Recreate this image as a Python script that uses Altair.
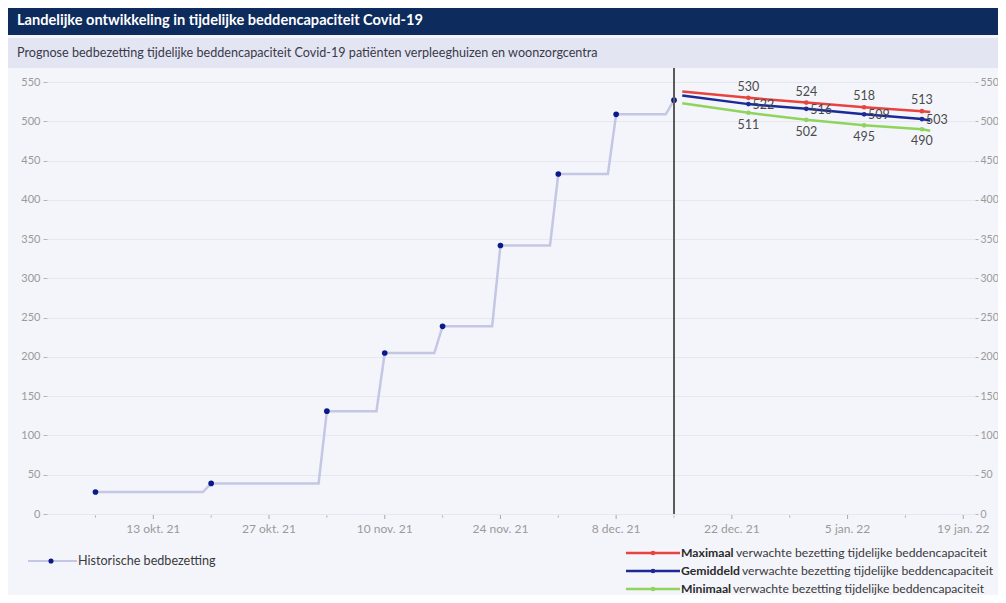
import altair as alt
import pandas as pd

FONT = "Lato"

# ---------------- data ----------------
hist_dates = ["2021-10-06", "2021-10-20", "2021-11-03", "2021-11-10", "2021-11-17",
              "2021-11-24", "2021-12-01", "2021-12-08", "2021-12-15"]
hist_values = [28, 39, 131, 205, 239, 342, 433, 509, 527]

fc_dates = ["2021-12-16", "2021-12-24", "2021-12-31", "2022-01-07", "2022-01-14", "2022-01-15"]
fc_max = [538, 530, 524, 518, 513, 512]
fc_avg = [533, 522, 516, 509, 503, 501]
fc_min = [523, 511, 502, 495, 490, 488]
labeled_idx = [1, 2, 3, 4]

series_names = ["Maximaal", "Gemiddeld", "Minimaal"]
series_colors = ["#e8433e", "#1b2a96", "#8fd45c"]

split_date = "2021-12-15"

x_ticks = ["2021-10-06", "2021-10-13", "2021-10-20", "2021-10-27", "2021-11-03", "2021-11-10",
           "2021-11-17", "2021-11-24", "2021-12-01", "2021-12-08", "2021-12-15", "2021-12-22",
           "2021-12-29", "2022-01-05", "2022-01-12", "2022-01-19"]
x_major = ["2021-10-13", "2021-10-27", "2021-11-10", "2021-11-24", "2021-12-08",
           "2021-12-22", "2022-01-05", "2022-01-19"]
y_ticks = [0, 50, 100, 150, 200, 250, 300, 350, 400, 450, 500, 550]
months_nl = ["jan.", "feb.", "mrt.", "apr.", "mei", "jun.", "jul.", "aug.",
             "sep.", "okt.", "nov.", "dec."]

title_text = "Landelijke ontwikkeling in tijdelijke beddencapaciteit Covid-19"
subtitle_text = ("Prognose bedbezetting tijdelijke beddencapaciteit Covid-19 patiënten "
                 "verpleeghuizen en woonzorgcentra")
legend_hist = "Historische bedbezetting"
legend_suffix = "verwachte bezetting tijdelijke beddencapaciteit"

# ---------------- tables ----------------
hist_pts = pd.DataFrame({"d": pd.to_datetime(hist_dates), "v": hist_values})
line_rows = []
for i, (d, v) in enumerate(zip(hist_dates, hist_values)):
    if i > 0:
        line_rows.append({"d": pd.Timestamp(d) - pd.Timedelta(days=1), "v": hist_values[i - 1]})
    line_rows.append({"d": pd.Timestamp(d), "v": v})
hist_line = pd.DataFrame(line_rows)

fc_rows = []
for name, vals in zip(series_names, [fc_max, fc_avg, fc_min]):
    for i, (d, v) in enumerate(zip(fc_dates, vals)):
        fc_rows.append({"d": pd.Timestamp(d), "v": v, "s": name, "lab": i in labeled_idx})
fc_df = pd.DataFrame(fc_rows)
fc_lab = fc_df[fc_df["lab"]]

tick_rows = []
for d in x_ticks:
    t = pd.Timestamp(d)
    major = d in x_major
    tick_rows.append({"d": t, "major": major,
                      "label": f"{t.day} {months_nl[t.month - 1]} {t.strftime('%y')}" if major else ""})
ticks_df = pd.DataFrame(tick_rows)

one = pd.DataFrame({"a": [0]})


def dt(s, hours=0, minutes=0):
    t = pd.Timestamp(s)
    return alt.DateTime(year=t.year, month=t.month, date=t.day, hours=hours, minutes=minutes)


x_scale = alt.Scale(domain=[dt("2021-09-30", 3, 20), dt("2022-01-20", 10)])
y_scale = alt.Scale(domain=[0, 568], nice=False, zero=True)
color_scale = alt.Scale(domain=series_names, range=series_colors)

y_axis_left = alt.Axis(values=y_ticks, grid=True, gridColor="#e7e8ef", domain=False,
                       tickColor="#b5b5b5", tickSize=4, labelColor="#9a9a9a",
                       labelFontSize=11, labelFont=FONT, labelPadding=3, title=None)
y_axis_right = alt.Axis(values=y_ticks, orient="right", grid=False, domain=False,
                        tickColor="#b5b5b5", tickSize=3, labelColor="#9a9a9a",
                        labelFontSize=10.5, labelFont=FONT, labelPadding=2, title=None)

X = lambda: alt.X("d:T", scale=x_scale, axis=None)
Y = lambda axis=None: alt.Y("v:Q", scale=y_scale, axis=axis)

layers = []

# header bars
layers.append(alt.Chart(one).mark_rect(color="#0d2b5c").encode(
    x=alt.value(-39), x2=alt.value(951), y=alt.value(-60), y2=alt.value(-33)))
layers.append(alt.Chart(one).mark_rect(color="#e3e5f2").encode(
    x=alt.value(-39), x2=alt.value(951), y=alt.value(-30), y2=alt.value(0)))
layers.append(alt.Chart(one).mark_text(text=title_text, align="left", baseline="middle",
                                       color="white", fontSize=14.6, fontWeight="bold",
                                       font=FONT).encode(
    x=alt.value(-30), y=alt.value(-47)))
layers.append(alt.Chart(one).mark_text(text=subtitle_text, align="left", baseline="middle",
                                       color="#3a3a4a", fontSize=12.6, font=FONT).encode(
    x=alt.value(-30), y=alt.value(-15)))

# x axis (ticks + labels drawn through the time scale)
layers.append(alt.Chart(ticks_df[ticks_df["major"]]).mark_rule(color="#a8a8a8", strokeWidth=1).encode(
    x=X(), y=alt.value(447), y2=alt.value(451)))
layers.append(alt.Chart(ticks_df[~ticks_df["major"]]).mark_rule(color="#a8a8a8", strokeWidth=1).encode(
    x=X(), y=alt.value(447.5), y2=alt.value(449.5)))
layers.append(alt.Chart(ticks_df[ticks_df["major"]]).mark_text(
    color="#9a9a9a", fontSize=12, font=FONT, baseline="middle", align="center").encode(
    x=X(), y=alt.value(461), text="label:N"))

# historic
layers.append(alt.Chart(hist_line).mark_line(color="#c3c7e4", strokeWidth=2.5).encode(
    x=X(), y=Y(y_axis_left)))
layers.append(alt.Chart(hist_pts).mark_point(filled=True, color="#0b1a8a", size=32,
                                             opacity=1).encode(x=X(), y=Y()))

# split rule
layers.append(alt.Chart(pd.DataFrame({"d": [pd.Timestamp(split_date)]})).mark_rule(
    color="#5a5a5a", strokeWidth=2).encode(x=X()))

# forecasts
layers.append(alt.Chart(fc_df).mark_line(strokeWidth=2.5).encode(
    x=X(), y=Y(y_axis_right),
    color=alt.Color("s:N", scale=color_scale, legend=None),
    order=alt.Order("d:T")))
layers.append(alt.Chart(fc_lab).mark_point(filled=True, size=22, opacity=1).encode(
    x=X(), y=Y(), color=alt.Color("s:N", scale=color_scale, legend=None)))

label_style = {
    "Maximaal": dict(align="center", baseline="middle", dx=0, dy=-11),
    "Gemiddeld": dict(align="left", baseline="middle", dx=4, dy=1),
    "Minimaal": dict(align="center", baseline="middle", dx=0, dy=12),
}
for name in series_names:
    layers.append(alt.Chart(fc_lab[fc_lab["s"] == name]).mark_text(
        fontSize=12.5, font=FONT, color="#4a4a4a", **label_style[name]).encode(
        x=X(), y=Y(), text=alt.Text("v:Q", format="d")))

# legend: historic
layers.append(alt.Chart(one).mark_rule(color="#c3c7e4", strokeWidth=2).encode(
    x=alt.value(-19), x2=alt.value(30), y=alt.value(493)))
layers.append(alt.Chart(one).mark_point(filled=True, color="#0b1a8a", size=26,
                                        opacity=1).encode(x=alt.value(4), y=alt.value(493)))
layers.append(alt.Chart(one).mark_text(text=legend_hist, align="left", baseline="middle",
                                       color="#3a3a3a", fontSize=12.6, font=FONT).encode(
    x=alt.value(31), y=alt.value(493)))

# legend: forecasts
legend_rows_y = [485, 503, 521]
suffix_x = [689, 695, 686]
for name, col, yy, sx in zip(series_names, series_colors, legend_rows_y, suffix_x):
    layers.append(alt.Chart(one).mark_rule(color=col, strokeWidth=2.5).encode(
        x=alt.value(579), x2=alt.value(633), y=alt.value(yy)))
    layers.append(alt.Chart(one).mark_point(filled=True, color=col, size=22,
                                            opacity=1).encode(x=alt.value(606), y=alt.value(yy)))
    layers.append(alt.Chart(one).mark_text(text=name, align="left", baseline="middle",
                                           color="#2a2a2a", fontSize=12.2, fontWeight="bold",
                                           font=FONT).encode(x=alt.value(634), y=alt.value(yy)))
    layers.append(alt.Chart(one).mark_text(text=legend_suffix, align="left", baseline="middle",
                                           color="#3a3a3a", fontSize=12.2, font=FONT).encode(
        x=alt.value(sx), y=alt.value(yy)))

chart = alt.layer(*layers).resolve_axis(y="independent").properties(
    width=928, height=446,
    autosize=alt.AutoSizeParams(type="none"),
    padding={"left": 39, "top": 60, "right": 23, "bottom": 81},
    background="#f4f5fa",
).configure_view(stroke=None)

chart.save("out.html", embed_options={"renderer": "svg", "actions": False})
